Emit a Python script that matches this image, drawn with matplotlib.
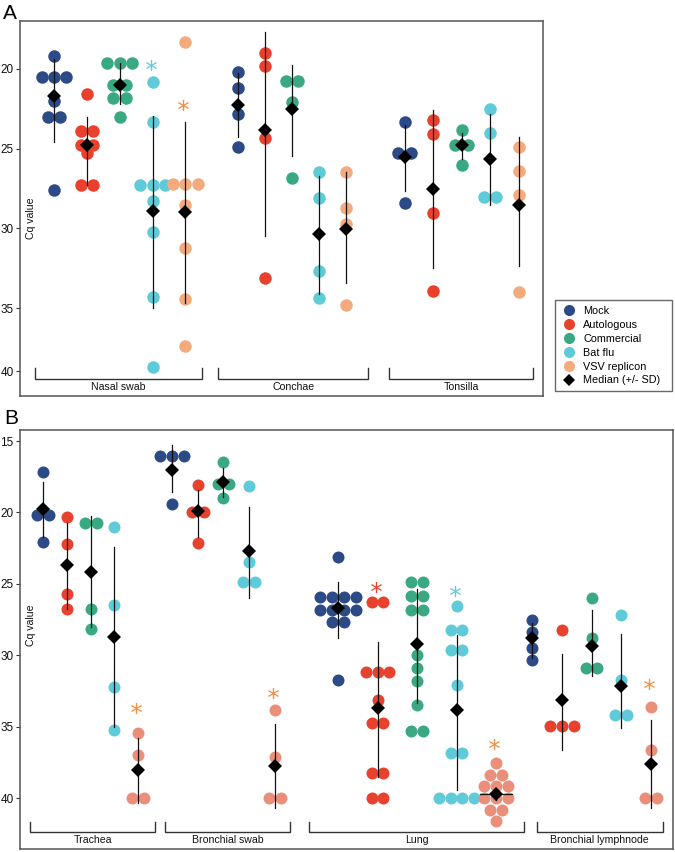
import numpy as np
import matplotlib
matplotlib.use("Agg")
import matplotlib.pyplot as plt
import matplotlib.transforms as mtransforms
from matplotlib.lines import Line2D

plt.rcParams['font.family'] = ['Liberation Sans', 'DejaVu Sans']

# ---- data (Cq values) ----
treatments = ["Mock", "Autologous", "Commercial", "Bat flu", "VSV replicon"]
colors_a = ["#2c4a86", "#e8412e", "#3aa983", "#5fcad8", "#f3ab7e"]
colors_b = ["#2c4a86", "#e8412e", "#3aa983", "#5fcad8", "#e98f7a"]
star_colors = ["#2c4a86", "#e8412e", "#3aa983", "#5fcad8", "#f28d3e"]

# panel A
nasal_cq = [[19.2, 20.5, 20.5, 20.5, 22.0, 23.0, 23.0, 27.6],
            [21.6, 23.9, 23.9, 24.8, 24.8, 25.3, 27.3, 27.3],
            [19.65, 19.65, 19.65, 21.0, 21.0, 21.85, 21.85, 23.0],
            [20.8, 23.3, 27.3, 27.3, 27.3, 28.3, 30.25, 34.3, 39.7],
            [18.3, 27.2, 27.2, 27.2, 28.5, 31.25, 34.45, 38.0]]
nasal_median = [21.67, 24.79, 21.0, 28.92, 28.94]
nasal_mean = [22.0, 25.14, 20.92, 28.97, 29.0]
nasal_sd = [2.6, 2.12, 1.28, 5.99, 5.7]
nasal_star = [None, None, None, 19.75, 22.25]

conchae_cq = [[20.2, 21.2, 22.8, 24.9],
              [19.0, 19.85, 24.3, 33.1],
              [20.75, 20.75, 22.1, 26.85],
              [26.45, 28.1, 32.65, 34.35],
              [26.45, 28.7, 29.7, 34.8]]
conchae_median = [22.29, 23.85, 22.52, 30.35, 30.02]
conchae_mean = [22.26, 24.08, 22.63, 30.43, 29.93]
conchae_sd = [2.03, 6.4, 2.86, 3.7, 3.47]
conchae_star = [None, None, None, None, None]

tonsilla_cq = [[23.3, 25.3, 25.3, 28.4],
               [23.2, 24.1, 29.0, 33.9],
               [23.8, 24.8, 24.8, 26.0],
               [22.5, 24.0, 28.05, 28.05],
               [24.9, 26.4, 27.9, 34.0]]
tonsilla_median = [25.52, 27.52, 24.77, 25.65, 28.5]
tonsilla_mean = [25.59, 27.53, 24.84, 25.66, 28.32]
tonsilla_sd = [2.08, 4.93, 0.82, 2.85, 4.03]
tonsilla_star = [None, None, None, None, None]

# panel B
trachea_cq = [[17.15, 20.2, 20.2, 22.1],
              [20.3, 22.2, 25.7, 26.75],
              [20.75, 20.75, 26.75, 28.15],
              [21.05, 26.45, 32.2, 35.2],
              [35.4, 36.95, 40.0, 40.0]]
trachea_median = [19.78, 23.68, 24.14, 28.69, 38.02]
trachea_mean = [19.78, 23.76, 24.11, 28.72, 38.06]
trachea_sd = [1.93, 3.0, 3.88, 6.28, 2.3]
trachea_star = [None, None, None, None, 33.71]

bswab_cq = [[16.05, 16.05, 16.05, 19.4],
            [18.05, 19.95, 19.95, 22.15],
            [16.5, 18.0, 18.0, 19.0],
            [18.15, 23.5, 24.85, 24.85],
            [33.85, 37.1, 40.0, 40.0]]
bswab_median = [17.03, 19.88, 17.89, 22.7, 37.74]
bswab_mean = [16.92, 20.06, 17.93, 22.83, 37.73]
bswab_sd = [1.64, 1.63, 1.02, 3.19, 2.93]
bswab_star = [None, None, None, None, 32.66]

lung_cq = [[23.1, 25.9, 25.9, 25.9, 25.9, 26.85, 26.85, 26.85, 26.85, 27.7, 27.7, 31.7],
           [26.3, 26.3, 31.15, 31.15, 31.15, 33.1, 34.75, 34.75, 38.2, 38.2, 40.0, 40.0],
           [24.85, 24.85, 25.85, 25.85, 26.85, 26.85, 30.0, 30.85, 31.8, 33.5, 35.3, 35.3],
           [26.55, 28.25, 28.25, 29.6, 29.6, 32.05, 36.8, 36.8, 40.0, 40.0, 40.0, 40.0],
           [37.55, 38.35, 38.35, 39.15, 39.15, 39.15, 39.95, 39.95, 39.95, 40.8, 40.8, 41.6]]
lung_median = [26.71, 33.71, 29.21, 33.82, 39.7]
lung_mean = [26.83, 33.77, 29.34, 34.0, 39.7]
lung_sd = [1.99, 4.73, 3.96, 5.42, 0.4]
lung_star = [None, 25.19, None, 25.47, 36.23]

bln_cq = [[27.5, 28.35, 29.5, 30.35],
          [28.25, 34.95, 34.95, 34.95],
          [26.0, 28.8, 30.85, 30.85],
          [27.2, 31.7, 34.15, 34.15],
          [33.6, 36.65, 40.0, 40.0]]
bln_median = [28.81, 33.12, 29.32, 32.12, 37.63]
bln_mean = [28.96, 33.28, 29.14, 31.8, 37.59]
bln_sd = [1.25, 3.35, 2.31, 3.27, 3.07]
bln_star = [None, None, None, None, 32.0]


def swarm_offsets(vals, step):
    # equal values side by side, centred on the column
    vals = np.asarray(vals)
    off = np.zeros(len(vals))
    for v in np.unique(vals):
        idx = np.where(vals == v)[0]
        off[idx] = (np.arange(len(idx)) - (len(idx) - 1) / 2) * step
    return off


def draw_tissue(ax, xc, spacing, cq, median, mean, sd, stars, colors, dot_px, dia_px):
    for i in range(len(treatments)):
        x0 = xc + (i - 2) * spacing
        vals = np.asarray(cq[i])
        xs = x0 + swarm_offsets(vals, dot_px * 0.98)
        ax.scatter(xs, vals, s=(dot_px * 0.72) ** 2, color=colors[i], lw=0, zorder=2)
        ax.plot([x0, x0], [mean[i] - sd[i], mean[i] + sd[i]], color="#111111", lw=0.9, zorder=3)
        if sd[i] < 0.6:
            ax.plot([x0 - 16, x0 + 16], [mean[i], mean[i]], color="#111111", lw=0.9, zorder=3)
        ax.plot(x0, median[i], marker="D", color="black", ms=dia_px * 0.72 / 1.414,
                mew=0, zorder=4)
        if stars[i] is not None:
            ax.plot(x0 - 2, stars[i], marker="$*$", color=star_colors[i], ms=8, mew=0, zorder=4)


def bracket(ax, x0, x1, label, y_line, y_tick, y_text):
    tr = mtransforms.blended_transform_factory(ax.transData, ax.transAxes)
    ax.plot([x0, x0, x1, x1], [y_tick, y_line, y_line, y_tick], transform=tr,
            color="#333333", lw=1.0, clip_on=False, solid_joinstyle="miter")
    ax.text((x0 + x1) / 2, y_text, label, transform=tr, ha="center", va="center",
            fontsize=7.6, color="#111111")


def style_axes(ax):
    for s in ax.spines.values():
        s.set_color("#555555")
        s.set_linewidth(1.1)
    ax.set_xticks([])
    ax.tick_params(axis="y", length=3, width=0.8, labelsize=8.5, pad=1.5,
                   colors="#333333", labelcolor="#111111")


fig = plt.figure(figsize=(6.75, 8.52), dpi=100)
W, H = 675, 852

# ---- panel A ----
axA = fig.add_axes([20 / W, 1 - 396 / H, 523 / W, 375 / H])
k = 0.7875  # the 35-40 band is squeezed in the original


def fwd(v):
    v = np.asarray(v, float)
    return np.where(v <= 35, v, 35 + (v - 35) * k)


def inv(u):
    u = np.asarray(u, float)
    return np.where(u <= 35, u, 35 + (u - 35) / k)


axA.set_yscale("function", functions=(fwd, inv))
axA.set_xlim(0, 523)
axA.set_ylim(41.98, 17.0)
axA.set_yticks([20, 25, 30, 35, 40])
axA.set_yticklabels(["20", "25", "30", "35", "40"])
style_axes(axA)

draw_tissue(axA, 99.6, 32.9, nasal_cq, nasal_median, nasal_mean, nasal_sd, nasal_star, colors_a, 12.5, 14.5)
draw_tissue(axA, 272.3, 27.0, conchae_cq, conchae_median, conchae_mean, conchae_sd, conchae_star, colors_a, 12.5, 14.5)
draw_tissue(axA, 441.6, 28.5, tonsilla_cq, tonsilla_median, tonsilla_mean, tonsilla_sd, tonsilla_star, colors_a, 12.5, 14.5)

bracket(axA, 15, 181.7, "Nasal swab", 0.0453, 0.0747, 0.024)
bracket(axA, 198.3, 348.3, "Conchae", 0.0453, 0.0747, 0.024)
bracket(axA, 369.3, 512.7, "Tonsilla", 0.0453, 0.0747, 0.024)
axA.text(0.0205, 0.475, "Cq value", transform=axA.transAxes, rotation=90,
         ha="center", va="center", fontsize=7.6, color="#111111")

# ---- panel B ----
axB = fig.add_axes([20 / W, 1 - 849 / H, 653 / W, 419 / H])
axB.set_xlim(0, 653)
axB.set_ylim(43.55, 14.23)
axB.set_yticks([15, 20, 25, 30, 35, 40])
style_axes(axB)

draw_tissue(axB, 70.7, 23.7, trachea_cq, trachea_median, trachea_mean, trachea_sd, trachea_star, colors_b, 12.0, 13.5)
draw_tissue(axB, 203.4, 25.7, bswab_cq, bswab_median, bswab_mean, bswab_sd, bswab_star, colors_b, 12.0, 13.5)
draw_tissue(axB, 397.0, 39.5, lung_cq, lung_median, lung_mean, lung_sd, lung_star, colors_b, 12.0, 13.5)
draw_tissue(axB, 571.6, 29.6, bln_cq, bln_median, bln_mean, bln_sd, bln_star, colors_b, 12.0, 13.5)

bracket(axB, 10, 135.3, "Trachea", 0.040, 0.0637, 0.0215)
bracket(axB, 144.7, 270.3, "Bronchial swab", 0.040, 0.0637, 0.0215)
bracket(axB, 289.3, 504.3, "Lung", 0.040, 0.0637, 0.0215)
bracket(axB, 516.7, 642.7, "Bronchial lymphnode", 0.040, 0.0637, 0.0215)
axB.text(0.0164, 0.535, "Cq value", transform=axB.transAxes, rotation=90,
         ha="center", va="center", fontsize=7.6, color="#111111")

# panel letters
fig.text(3 / W, 1 - 4 / H, "A", fontsize=15, ha="left", va="top")
fig.text(4 / W, 1 - 409 / H, "B", fontsize=15, ha="left", va="top")

# ---- legend ----
handles = [Line2D([], [], ls="none", marker="o", ms=8, mew=0, color=c) for c in colors_a]
handles.append(Line2D([], [], ls="none", marker="D", ms=6.6, mew=0, color="black"))
labels = treatments + ["Median (+/- SD)"]
leg = fig.legend(handles, labels, loc="upper left", mode="expand",
                 bbox_to_anchor=(555 / W, 1 - 397 / H, 117 / W, 97 / H),
                 fontsize=7.8, frameon=True, fancybox=False, borderaxespad=0,
                 handlelength=1.5, handletextpad=0.56, labelspacing=0.36, borderpad=0.55)
leg.get_frame().set_edgecolor("#444444")
leg.get_frame().set_linewidth(1.0)

fig.savefig("out.png", dpi=100)
